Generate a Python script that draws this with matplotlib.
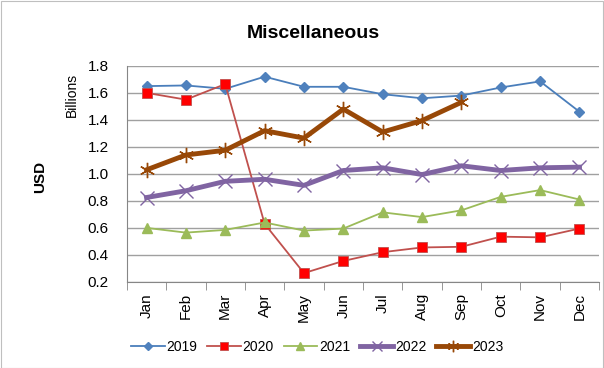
import matplotlib
matplotlib.use("Agg")
import matplotlib.pyplot as plt
from matplotlib.patches import Rectangle

plt.rcParams['font.family'] = ['Liberation Sans', 'DejaVu Sans']

months = ['Jan', 'Feb', 'Mar', 'Apr', 'May', 'Jun', 'Jul', 'Aug', 'Sep', 'Oct', 'Nov', 'Dec']
y2019 = [1.65, 1.655, 1.63, 1.72, 1.645, 1.645, 1.59, 1.56, 1.58, 1.64, 1.685, 1.46]
y2020 = [1.60, 1.55, 1.665, 0.63, 0.265, 0.355, 0.42, 0.455, 0.46, 0.535, 0.53, 0.595]
y2021 = [0.60, 0.565, 0.585, 0.64, 0.58, 0.595, 0.715, 0.68, 0.73, 0.83, 0.88, 0.81]
y2022 = [0.825, 0.875, 0.945, 0.96, 0.915, 1.025, 1.045, 0.995, 1.06, 1.025, 1.045, 1.05]
y2023 = [1.03, 1.14, 1.175, 1.32, 1.265, 1.48, 1.31, 1.395, 1.53]
yticks = [0.2, 0.4, 0.6, 0.8, 1.0, 1.2, 1.4, 1.6, 1.8]

fig = plt.figure(figsize=(6.04, 3.68), dpi=100)
fig.patches.append(Rectangle((0.001, 0.001), 0.997, 0.997, transform=fig.transFigure,
                             fill=False, edgecolor='#bfbfbf', linewidth=0.8))
ax = fig.add_axes([0.210, 0.234, 0.782, 0.587])

x = list(range(len(months)))
ax.plot(x, y2019, color='#4A7EBB', lw=1.3, marker='D', ms=5.5, mfc='#4F81BD', mec='#4F81BD', label='2019')
ax.plot(x, y2020, color='#C0504D', lw=1.3, marker='s', ms=7, mfc='#FF0000', mec='#C0504D', mew=0.6, label='2020')
ax.plot(x, y2021, color='#9BBB59', lw=1.3, marker='^', ms=7, mfc='#9BBB59', mec='#9BBB59', label='2021')
ax.plot(x, y2022, color='#8064A2', lw=3.5, marker='x', ms=10, mec='#8064A2', mew=1.0, label='2022')
ax.plot(x[:len(y2023)], y2023, color='#984807', lw=3.5, marker=(6, 2, 0), ms=11, mec='#984807', mew=1.0, label='2023')

ax.set_xlim(-0.5, 11.5)
ax.set_ylim(0.2, 1.8)
ax.set_yticks(yticks)
ax.set_yticklabels(['%.1f' % v for v in yticks], fontsize=11)
ax.set_xticks(x)
ax.set_xticklabels(months, rotation=90, fontsize=11)
ax.set_xticks([i - 0.5 for i in range(13)], minor=True)
ax.tick_params(axis='x', which='major', length=0, pad=8)
ax.tick_params(axis='x', which='minor', length=6, color='#868686')
ax.tick_params(axis='y', length=0, pad=13)
ax.grid(axis='y', color='#a0a0a0', lw=1.0)
ax.set_axisbelow(True)
for s in ['top', 'right']:
    ax.spines[s].set_visible(False)
for s in ['left', 'bottom']:
    ax.spines[s].set_color('#868686')

fig.text(0.518, 0.91, 'Miscellaneous', fontsize=14, fontweight='bold', ha='center', va='center')
fig.text(0.066, 0.52, 'USD', fontsize=11, fontweight='bold', rotation=90, ha='center', va='center')
fig.text(0.119, 0.742, 'Billions', fontsize=10, rotation=90, ha='center', va='center')

fig.legend(loc='center', bbox_to_anchor=(0.525, 0.057), ncol=5, frameon=False, fontsize=10,
           handlelength=2.4, columnspacing=0.7, handletextpad=0.15, markerscale=0.75)

fig.savefig('out.png', dpi=100)
